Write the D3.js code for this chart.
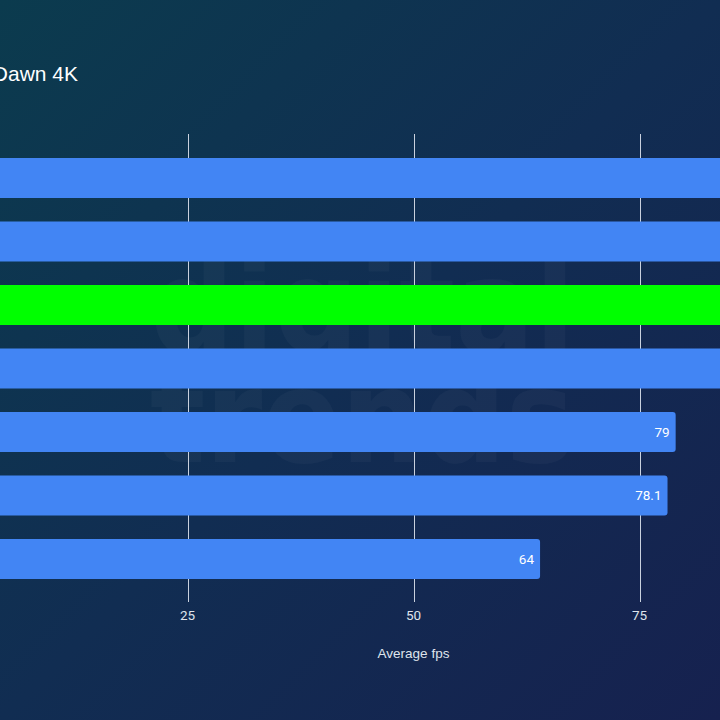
<!DOCTYPE html>
<html>
<head>
<meta charset="utf-8">
<script src="https://cdn.jsdelivr.net/npm/d3@7"></script>
<style>
  html, body { margin: 0; padding: 0; background: #0f2a4f; }
  svg { display: block; }
</style>
</head>
<body>
<svg id="chart" width="720" height="720"></svg>
<script>
// ---- data ----
const title = "Horizon Zero Dawn 4K";
const categories = ["GPU A", "GPU B", "GPU C (tested)", "GPU D", "GPU E", "GPU F", "GPU G"];
const values = [98, 93, 90, 87, 79, 78.1, 64];
const highlighted = ["GPU C (tested)"];
const tickValues = [0, 25, 50, 75, 100];
const xAxisTitle = "Average fps";

// ---- layout ----
const W = 720, H = 720;
const svg = d3.select("#chart");

const defs = svg.append("defs");
const grad = defs.append("linearGradient").attr("id", "bg")
  .attr("x1", "0%").attr("y1", "0%").attr("x2", "100%").attr("y2", "100%");
grad.append("stop").attr("offset", "0%").attr("stop-color", "#0b3b4e");
grad.append("stop").attr("offset", "50%").attr("stop-color", "#112d52");
grad.append("stop").attr("offset", "100%").attr("stop-color", "#16214f");
svg.append("rect").attr("width", W).attr("height", H).attr("fill", "url(#bg)");

// faint watermark
const wm = svg.append("g").attr("fill", "#ffffff").attr("fill-opacity", 0.03)
  .attr("font-family", "'DejaVu Sans', sans-serif").attr("font-weight", "bold");
wm.append("text").attr("x", 150).attr("y", 352).attr("font-size", 130)
  .attr("textLength", 425).attr("lengthAdjust", "spacingAndGlyphs").text("digital");
wm.append("text").attr("x", 150).attr("y", 462).attr("font-size", 130)
  .attr("textLength", 425).attr("lengthAdjust", "spacingAndGlyphs").text("trends");

const x = d3.scaleLinear().domain([0, 100]).range([-38.5, 865.5]);
const y = d3.scaleBand().domain(categories).range([134.5, 602.5]).padding(0.37);
const visible = v => x(v) > 10 && x(v) < W - 10;

// gridlines
svg.append("g").selectAll("line").data(tickValues).join("line")
  .attr("x1", d => Math.round(x(d)) + 0.5).attr("x2", d => Math.round(x(d)) + 0.5)
  .attr("y1", 134).attr("y2", 602)
  .attr("stroke", "#c9d1de").attr("stroke-width", 1);

// bars
const rows = categories.map((c, i) => ({ c, v: values[i] }));
svg.append("g").selectAll("rect").data(rows).join("rect")
  .attr("x", x(0) - 4)
  .attr("y", d => y(d.c))
  .attr("width", d => x(d.v) - x(0) + 4)
  .attr("height", y.bandwidth())
  .attr("rx", 3)
  .attr("fill", d => highlighted.includes(d.c) ? "#00ff00" : "#4285f4");

// value labels (only those inside the visible frame)
svg.append("g").selectAll("text").data(rows.filter(d => visible(d.v))).join("text")
  .attr("x", d => x(d.v) - 6)
  .attr("y", d => y(d.c) + y.bandwidth() / 2)
  .attr("dy", "0.35em")
  .attr("text-anchor", "end")
  .attr("font-family", "Roboto, sans-serif")
  .attr("font-size", 13.5)
  .attr("fill", "#ffffff")
  .text(d => d.v);

// x axis tick labels
svg.append("g").selectAll("text").data(tickValues.filter(visible)).join("text")
  .attr("x", d => x(d))
  .attr("y", 620)
  .attr("text-anchor", "middle")
  .attr("font-family", "Roboto, sans-serif")
  .attr("font-size", 13.5)
  .attr("fill", "#dfe4ec")
  .text(d => d);

// axis title
svg.append("text")
  .attr("x", x(50)).attr("y", 658)
  .attr("text-anchor", "middle")
  .attr("font-family", "'Liberation Sans', Arial, sans-serif")
  .attr("font-size", 13.5)
  .attr("fill", "#dfe4ec")
  .text(xAxisTitle);

// title
svg.append("text")
  .attr("x", 78).attr("y", 81)
  .attr("text-anchor", "end")
  .attr("font-family", "'Liberation Sans', Arial, sans-serif")
  .attr("font-size", 21)
  .attr("fill", "#ffffff")
  .text(title);
</script>
</body>
</html>
